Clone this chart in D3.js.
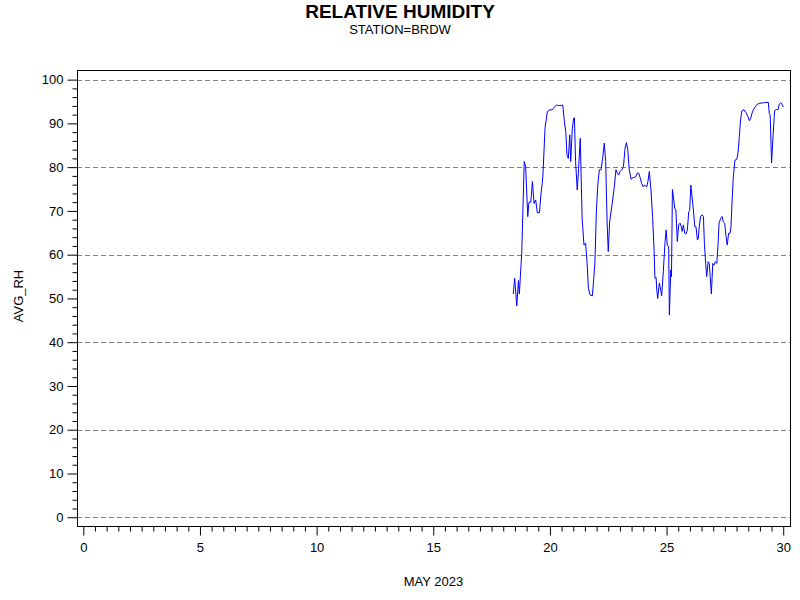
<!DOCTYPE html>
<html>
<head>
<meta charset="utf-8">
<script src="https://cdn.jsdelivr.net/npm/d3@7"></script>
<style>
  body { margin: 0; background: #fff; }
  text { font-family: Arial, "Liberation Sans", sans-serif; }
</style>
</head>
<body>
<script>
// day of May 2023 (fractional) and average relative humidity
const days = [18.43,18.49,18.58,18.65,18.69,18.79,18.90,18.96,19.05,19.10,19.18,19.25,19.32,19.39,19.46,19.55,19.62,19.67,19.70,19.79,19.89,20.00,20.10,20.19,20.28,20.36,20.48,20.55,20.62,20.68,20.73,20.79,20.85,20.89,20.96,21.02,21.05,21.10,21.17,21.23,21.30,21.38,21.46,21.53,21.59,21.65,21.72,21.82,21.88,21.93,21.99,22.05,22.12,22.19,22.26,22.33,22.39,22.45,22.50,22.56,22.67,22.76,22.83,22.89,22.95,23.00,23.08,23.15,23.22,23.28,23.34,23.40,23.48,23.53,23.62,23.68,23.75,23.81,23.86,23.93,24.00,24.06,24.15,24.20,24.26,24.33,24.40,24.47,24.50,24.55,24.58,24.62,24.69,24.75,24.79,24.86,24.93,24.98,25.03,25.09,25.12,25.18,25.21,25.25,25.31,25.35,25.40,25.46,25.52,25.58,25.63,25.67,25.72,25.78,25.83,25.89,25.95,25.99,26.04,26.09,26.15,26.21,26.26,26.32,26.36,26.40,26.46,26.52,26.58,26.62,26.68,26.72,26.78,26.83,26.87,26.92,26.98,27.03,27.09,27.15,27.20,27.25,27.32,27.38,27.43,27.49,27.55,27.60,27.66,27.72,27.76,27.81,27.86,27.93,28.01,28.06,28.12,28.17,28.23,28.32,28.40,28.49,28.55,28.61,28.66,28.72,28.80,28.89,29.00,29.15,29.26,29.36,29.40,29.44,29.50,29.57,29.63,29.72,29.78,29.83,29.89,29.95,30.00];
const avgRH = [51.0,54.6,48.3,54.1,51.0,60.3,81.3,80.1,68.7,72.0,72.0,76.7,71.7,72.5,69.6,69.6,74.0,76.3,78.2,88.9,92.7,93.1,93.1,93.7,94.2,94.1,94.1,94.2,90.4,88.1,82.8,82.0,87.4,81.3,88.9,91.2,91.3,81.3,74.8,79.7,86.6,68.3,62.2,62.6,58.4,52.3,50.8,50.6,54.6,58.4,69.8,75.9,79.4,79.4,82.0,85.5,81.3,67.5,60.7,67.5,71.7,75.5,79.4,78.6,78.2,79.0,79.4,80.1,84.3,85.6,83.9,79.4,77.2,77.5,77.7,77.8,78.7,78.6,77.7,76.3,75.5,75.9,75.5,76.7,79.0,74.8,68.7,60.3,54.6,54.8,51.9,50.0,53.5,51.9,50.6,56.1,62.6,65.6,62.2,61.8,46.2,56.5,55.0,74.9,72.5,70.6,70.2,63.0,66.8,67.2,66.4,65.3,66.8,64.9,64.7,65.6,69.8,70.1,75.9,73.3,70.2,66.4,66.4,63.4,63.7,66.4,68.8,69.1,68.7,62.6,57.6,55.0,58.4,58.0,55.0,51.0,58.0,57.6,58.4,58.0,61.8,67.2,68.3,68.7,67.5,67.2,64.1,62.2,64.9,64.9,66.4,72.5,77.8,81.6,81.8,83.2,87.0,90.8,92.9,93.1,92.5,91.5,90.6,91.2,92.3,93.1,93.8,94.4,94.6,94.7,94.8,94.8,92.3,91.9,81.0,87.7,92.9,93.2,93.1,94.4,94.7,94.4,93.7];

const xMajor = [0, 5, 10, 15, 20, 25, 30];
const yMajor = [0, 10, 20, 30, 40, 50, 60, 70, 80, 90, 100];
const yGrid = [0, 20, 40, 60, 80, 100];

const width = 800, height = 600;
const plotL = 77, plotR = 790, plotT = 70, plotB = 526;

const x = d3.scaleLinear().domain([-0.27, 30.29]).range([plotL, plotR]);
const y = d3.scaleLinear().domain([-2.0, 102.2]).range([plotB, plotT]);

const svg = d3.select("body").append("svg")
    .attr("width", width)
    .attr("height", height);

// titles
svg.append("text").attr("x", 400).attr("y", 18)
    .attr("text-anchor", "middle").style("font-size", "19px").style("font-weight", "bold")
    .text("RELATIVE HUMIDITY");
svg.append("text").attr("x", 400).attr("y", 34)
    .attr("text-anchor", "middle").style("font-size", "13px")
    .text("STATION=BRDW");

// dashed reference lines
svg.append("g").selectAll("line").data(yGrid).enter().append("line")
    .attr("x1", plotL).attr("x2", plotR)
    .attr("y1", d => Math.round(y(d)) + 0.5).attr("y2", d => Math.round(y(d)) + 0.5)
    .attr("stroke", "#808080").attr("stroke-dasharray", "5,3");

// frame
svg.append("rect").attr("x", plotL + 0.5).attr("y", plotT + 0.5)
    .attr("width", plotR - plotL).attr("height", plotB - plotT)
    .attr("fill", "none").attr("stroke", "#000");

// y axis
const yMinor = d3.range(0, 101, 2).filter(v => v % 10 !== 0);
const yAxisMinor = d3.axisLeft(y).tickValues(yMinor).tickSize(5).tickFormat("");
const yAxis = d3.axisLeft(y).tickValues(yMajor).tickSize(10).tickPadding(4);
[yAxisMinor, yAxis].forEach(ax => {
  const g = svg.append("g").attr("transform", `translate(${plotL + 0.5},0)`).call(ax);
  g.select(".domain").remove();
  g.selectAll("text").style("font-size", "13px").attr("fill", "#000").attr("font-family", null);
});

// x axis
const xMinor = d3.range(0, 30.01, 0.5).filter(v => v % 5 !== 0);
const xAxisMinor = d3.axisBottom(x).tickValues(xMinor).tickSize(5).tickFormat("");
const xAxis = d3.axisBottom(x).tickValues(xMajor).tickSize(9).tickPadding(7);
[xAxisMinor, xAxis].forEach(ax => {
  const g = svg.append("g").attr("transform", `translate(0,${plotB + 0.5})`).call(ax);
  g.select(".domain").remove();
  g.selectAll("text").style("font-size", "13px").attr("fill", "#000").attr("font-family", null);
});

// axis labels
svg.append("text").attr("x", (plotL + plotR) / 2).attr("y", 586)
    .attr("text-anchor", "middle").style("font-size", "13px")
    .text("MAY 2023");
svg.append("text").attr("transform", "translate(23,296) rotate(-90)")
    .attr("text-anchor", "middle").style("font-size", "13px")
    .text("AVG_RH");

// humidity line
const pts = days.map((d, i) => [d, avgRH[i]]);
const line = d3.line().x(d => x(d[0])).y(d => y(d[1]));
svg.append("path").datum(pts)
    .attr("d", line)
    .attr("fill", "none")
    .attr("stroke", "#0000ff")
    .attr("stroke-width", 1);
</script>
</body>
</html>
